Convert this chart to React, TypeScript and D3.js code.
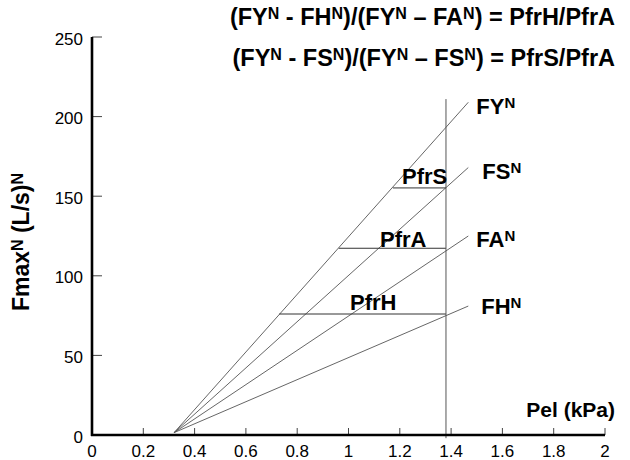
import * as d3 from 'd3';

const xTicks = [0, 0.2, 0.4, 0.6, 0.8, 1, 1.2, 1.4, 1.6, 1.8, 2];
const xTickLabels = ['0', '0.2', '0.4', '0.6', '0.8', '1', '1.2', '1.4', '1.6', '1.8', '2'];
const yTicks = [0, 50, 100, 150, 200, 250];

// fan of lines from a common origin
const lineNames = ['FY', 'FS', 'FA', 'FH'];
const originPel = 0.32;
const originF = 1.5;
const endPel = 1.467;
const endF = [209, 168, 125, 81];

// vertical reference line
const refPel = 1.38;
const refTop = 211;
const refBottom = -2;

// horizontal Pfr segments (from FY line to reference line)
const pfrNames = ['PfrS', 'PfrA', 'PfrH'];
const pfrLevel = [155.2, 117.3, 76];
const pfrLeftPel = [1.173, 0.962, 0.73];

const titleLines = [
  [['(FY'], ['N', 1], [' - FH'], ['N', 1], [')/(FY'], ['N', 1], [' – FA'], ['N', 1], [') = PfrH/PfrA']],
  [['(FY'], ['N', 1], [' - FS'], ['N', 1], [')/(FY'], ['N', 1], [' – FS'], ['N', 1], [') = PfrS/PfrA']],
];

const W = 630;
const H = 460;
const font = '"Liberation Sans", Arial, sans-serif';

export default function App() {
  const x = d3.scaleLinear().domain([0, 2]).range([92, 605]);
  const y = d3.scaleLinear().domain([0, 250]).range([435, 37]);
  const line = d3.line<[number, number]>().x(d => x(d[0])).y(d => y(d[1]));

  const labelOffsets = [[8, 12], [14, 11.5], [8, 11], [13, 8]];
  const pfrOffsets = [[-44, -3.5], [-66, -1.5], [-96, -4]];

  const sup = (t: string) => (
    <tspan fontSize="15" dy="-6">{t}</tspan>
  );

  return (
    <svg width={W} height={H} style={{ position: 'absolute', left: 0, top: 0, background: '#fff' }} fontFamily={font}>
      <rect width={W} height={H} fill="#fff" />

      {/* title */}
      {titleLines.map((parts, i) => (
        <text key={i} x={615} y={25 + i * 41} textAnchor="end" fontSize="23.5" fontWeight="bold" fill="#000">
          {parts.map((p, j) =>
            p[1] ? (
              <tspan key={j} fontSize="16" dy="-6.5">{p[0]}</tspan>
            ) : (
              <tspan key={j} dy={j > 0 ? 6.5 : 0}>{p[0]}</tspan>
            )
          )}
        </text>
      ))}

      {/* fan lines */}
      {lineNames.map((n, i) => (
        <path key={n} d={line([[originPel, originF], [endPel, endF[i]]]) || ''} stroke="#555" strokeWidth={0.9} fill="none" />
      ))}

      {/* Pfr horizontal segments */}
      {pfrNames.map((n, i) => (
        <path key={n} d={line([[pfrLeftPel[i], pfrLevel[i]], [refPel, pfrLevel[i]]]) || ''} stroke="#333" strokeWidth={1} fill="none" />
      ))}

      {/* vertical reference */}
      <path d={line([[refPel, refBottom], [refPel, refTop]]) || ''} stroke="#555" strokeWidth={1} fill="none" />

      {/* line labels */}
      {lineNames.map((n, i) => (
        <text key={n} x={x(endPel) + labelOffsets[i][0]} y={y(endF[i]) + labelOffsets[i][1]} fontSize="22" fontWeight="bold" fill="#000">
          {n}{sup('N')}
        </text>
      ))}

      {pfrNames.map((n, i) => (
        <text key={n} x={x(refPel) + pfrOffsets[i][0]} y={y(pfrLevel[i]) + pfrOffsets[i][1]} fontSize="22" fontWeight="bold" fill="#000">
          {n}
        </text>
      ))}

      {/* axes */}
      {xTicks.map((t, i) => (
        <g key={t}>
          <line x1={x(t)} x2={x(t)} y1={y(0)} y2={y(0) - 7} stroke="#444" strokeWidth={1} />
          <text x={x(t)} y={457} textAnchor="middle" fontSize="17" fill="#000">{xTickLabels[i]}</text>
        </g>
      ))}
      {yTicks.map(t => (
        <g key={t}>
          <line x1={x(0)} x2={x(0) + 10} y1={y(t)} y2={y(t)} stroke="#444" strokeWidth={1} />
          <text x={83} y={y(t) + 7.5} textAnchor="end" fontSize="17" fill="#000">{t}</text>
        </g>
      ))}
      <line x1={x(0)} x2={x(0)} y1={y(250)} y2={y(0) + 1} stroke="#000" strokeWidth={2.6} />
      <line x1={x(0) - 1} x2={x(2)} y1={y(0)} y2={y(0)} stroke="#000" strokeWidth={2.6} />

      {/* axis titles */}
      <text x={615} y={417} textAnchor="end" fontSize="21" fontWeight="bold" fill="#000">Pel (kPa)</text>
      <text transform="translate(29,242) rotate(-90)" textAnchor="middle" fontSize="23" fontWeight="bold" fill="#000">
        Fmax<tspan fontSize="16" dy="-6.5">N</tspan><tspan dy="6.5"> (L/s)</tspan><tspan fontSize="16" dy="-6.5">N</tspan>
      </text>
    </svg>
  );
}
